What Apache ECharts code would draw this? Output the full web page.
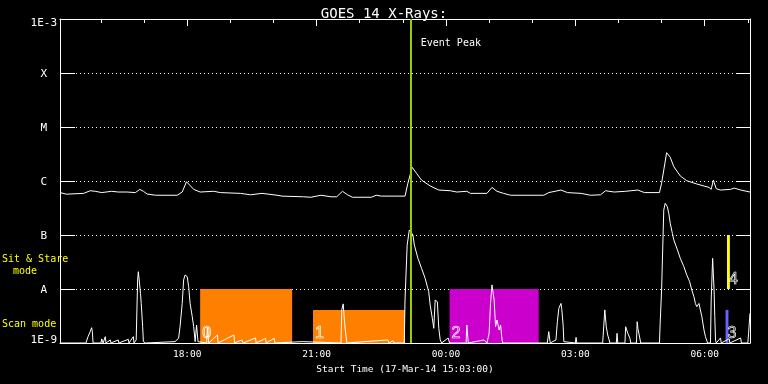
<!DOCTYPE html>
<html><head><meta charset="utf-8">
<script src="https://cdn.jsdelivr.net/npm/echarts@6/dist/echarts.min.js"></script>
<style>html,body{margin:0;padding:0;background:#000}#c{width:768px;height:384px}</style>
</head><body><div id="c"></div>
<script>
// ---- data ----
const axisRange = ["15:03", "07:03"];
const majorTicks = ["18:00", "21:00", "00:00", "03:00", "06:00"];
const hourTicks = ["16:00","17:00","18:00","19:00","20:00","21:00","22:00","23:00","00:00","01:00","02:00","03:00","04:00","05:00","06:00","07:00"];
const yTickLabels = ["1E-9", "A", "B", "C", "M", "X", "1E-3"];
const eventPeak = ["23:11"];

const upperFlux = [
["15:03",6.1e-7],["15:12",5.7e-7],["15:36",5.9e-7],["15:45",6.6e-7],["15:52",6.45e-7],["16:01",6.1e-7],
["16:15",6.45e-7],["16:24",6.25e-7],["16:36",6.25e-7],["16:48",6.1e-7],["16:54",7.0e-7],["16:59",6.45e-7],
["17:04",5.75e-7],["17:16",5.45e-7],["17:46",5.45e-7],["17:53",6.25e-7],["17:59",9.7e-7],["18:09",7.0e-7],
["18:18",6.25e-7],["18:37",6.45e-7],["18:46",6.1e-7],["19:14",5.9e-7],["19:28",5.55e-7],["19:44",5.9e-7],
["20:05",5.45e-7],["20:12",5.25e-7],["20:42",5.1e-7],["20:52",5.0e-7],["21:06",5.45e-7],["21:20",5.1e-7],
["21:28",5.1e-7],["21:36",6.45e-7],["21:43",5.55e-7],["21:50",5.0e-7],["22:16",5.0e-7],["22:23",5.45e-7],
["22:30",5.25e-7],["23:03",5.25e-7],["23:07",9.1e-7],["23:13",1.79e-6],["23:19",1.39e-6],["23:26",1.04e-6],
["23:38",8.1e-7],["23:50",6.8e-7],["00:06",6.6e-7],["00:15",6.25e-7],["00:29",6.45e-7],["00:34",5.9e-7],
["00:57",5.9e-7],["01:04",7.6e-7],["01:11",6.45e-7],["01:20",5.9e-7],["01:30",5.45e-7],["02:16",5.45e-7],
["02:23",6.1e-7],["02:40",6.8e-7],["02:49",6.1e-7],["03:08",5.9e-7],["03:21",5.45e-7],["03:35",5.55e-7],
["03:42",6.6e-7],["03:54",6.25e-7],["04:10",6.45e-7],["04:27",6.8e-7],["04:36",6.1e-7],["04:57",6.1e-7],
["05:00",9.1e-7],["05:07",3.34e-6],["05:12",2.75e-6],["05:17",1.84e-6],["05:26",1.24e-6],["05:35",1.01e-6],
["05:49",8.8e-7],["06:06",7.6e-7],["06:09",7.0e-7],["06:12",1.04e-6],["06:16",7.2e-7],["06:22",6.8e-7],
["06:36",7.0e-7],["06:41",7.4e-7],["06:50",6.8e-7],["07:03",6.25e-7]
];

const lowerFlux = [
["15:03",1e-9],["15:39",1e-9],["15:40",1.06e-9],["15:42",1.31e-9],["15:45",1.62e-9],["15:47",1.92e-9],
["15:48",1.62e-9],["15:49",1e-9],["16:00",1e-9],["16:01",1.19e-9],["16:03",1e-9],["16:06",1.31e-9],
["16:07",1e-9],["16:13",1.14e-9],["16:14",1e-9],["16:24",1.14e-9],["16:25",1e-9],["16:38",1.17e-9],
["16:39",1e-9],["16:45",1.31e-9],["16:46",1e-9],["16:49",1.14e-9],["16:50",4.1e-9],["16:51",1.47e-8],
["16:52",2.09e-8],["16:53",1.95e-8],["16:55",8.3e-9],["16:56",5.4e-9],["16:58",2.0e-9],["16:59",1.06e-9],
["17:01",1.14e-9],["17:02",1e-9],["17:43",1.06e-9],["17:48",1.22e-9],["17:50",2.0e-9],["17:53",5.4e-9],
["17:55",1.47e-8],["17:57",1.82e-8],["18:00",1.69e-8],["18:02",1.1e-8],["18:04",5.4e-9],["18:07",3.07e-9],
["18:09",2.0e-9],["18:11",1.06e-9],["18:13",2.15e-9],["18:15",1.06e-9],["18:27",1e-9],["18:28",1.9e-9],
["18:30",1e-9],["18:42",1.41e-9],["18:43",1e-9],["19:05",1.41e-9],["19:06",1e-9],["19:16",1.14e-9],
["19:18",1e-9],["19:35",1.24e-9],["19:36",1e-9],["19:49",1.22e-9],["19:50",1e-9],["20:01",1.22e-9],
["20:02",1e-9],["20:40",1.06e-9],["20:41",1e-9],["21:34",1e-9],["21:35",4.1e-9],["21:37",5.3e-9],
["21:39",2.32e-9],["21:42",1e-9],["22:39",1.14e-9],["22:41",1e-9],["22:46",1.1e-9],["22:48",1e-9],
["23:02",1e-9],["23:03",6.25e-9],["23:06",6.5e-8],["23:09",1.24e-7],["23:11",1.35e-7],["23:14",1.0e-7],
["23:16",6.5e-8],["23:21",3.7e-8],["23:26",2.42e-8],["23:31",1.58e-8],["23:36",8.9e-9],["23:38",5.05e-9],
["23:41",2.87e-9],["23:43",1.87e-9],["23:44",1.74e-9],["23:45",6.25e-9],["23:48",5.8e-9],["23:50",1.87e-9],
["23:52",1.14e-9],["23:54",1e-9],["00:03",1.24e-9],["00:05",1e-9],["00:28",1e-9],["00:29",2.15e-9],
["00:31",1e-9],["00:53",1.14e-9],["00:57",1e-9],["01:00",1.51e-9],["01:02",5.4e-9],["01:04",1.19e-8],
["01:07",6.25e-9],["01:09",2.0e-9],["01:11",2.67e-9],["01:14",1.74e-9],["01:16",2.15e-9],["01:18",1.14e-9],
["01:19",1e-9],["02:21",1e-9],["02:23",1.62e-9],["02:25",1e-9],["02:33",1.14e-9],["02:35",2.48e-9],
["02:37",4.39e-9],["02:40",5.4e-9],["02:41",4.39e-9],["02:43",2.15e-9],["02:44",1.06e-9],["02:45",1e-9],
["03:00",1e-9],["03:01",1.27e-9],["03:02",1e-9],["03:38",1e-9],["03:41",4.1e-9],["03:43",2.0e-9],
["03:45",1.41e-9],["03:47",1.14e-9],["03:48",1e-9],["03:57",1e-9],["03:58",1.51e-9],["03:59",1e-9],
["04:09",1e-9],["04:10",2.0e-9],["04:13",1.51e-9],["04:16",1.22e-9],["04:17",1e-9],["04:25",1e-9],
["04:26",2.48e-9],["04:27",1.87e-9],["04:29",1.87e-9],["04:31",1e-9],["04:57",1e-9],["04:58",2.32e-9],
["05:00",9.6e-9],["05:03",2.9e-7],["05:05",3.86e-7],["05:08",3.34e-7],["05:10",2.52e-7],["05:12",1.65e-7],
["05:15",1.07e-7],["05:17",8.1e-8],["05:22",5.3e-8],["05:26",3.7e-8],["05:31",2.59e-8],["05:35",1.82e-8],
["05:39",1.37e-8],["05:42",9.6e-9],["05:45",7.2e-9],["05:47",5.4e-9],["05:49",4.7e-9],["05:52",5.4e-9],
["05:54",5.05e-9],["05:56",3.07e-9],["05:59",1.74e-9],["06:01",1.31e-9],["06:04",1e-9],["06:08",1e-9],
["06:09",6.25e-9],["06:11",3.7e-8],["06:13",9.6e-9],["06:14",3.07e-9],["06:15",1.14e-9],["06:16",1e-9],
["06:22",1.24e-9],["06:23",1e-9],["06:34",1.2e-9],["06:35",1e-9],["06:50",1.24e-9],["06:51",1e-9],
["07:00",1e-9],["07:01",1.51e-9],["07:03",3.55e-9]
];

// observation blocks (raster intervals)
const obsStart = ["18:18", "20:55", "00:05", "06:29", "06:31"];
const obsEnd   = ["20:26", "23:03", "02:09", "06:33", "06:35"];
const obsLow   = [1e-9, 1e-9, 1e-9, 1e-9, 1e-8];
const obsHigh  = [1e-8, 4.1e-9, 1e-8, 4.1e-9, 1e-7];
const obsLabel = ["0", "1", "2", "3", "4"];

// ---- styles ----
const obsColors = ["#ff8000", "#ff8000", "#cc00cc", "#6464ff", "#ffff00"];
const FONT = "DejaVu Sans Mono";

function toH(s) { const p = s.split(":").map(Number); return (p[0] < 12 ? p[0] + 24 : p[0]) + p[1] / 60; }
const X0 = toH(axisRange[0]), X1 = toH(axisRange[1]);
const toPairs = arr => arr.map(d => [toH(d[0]), d[1]]);
const obsData = obsStart.map((s, i) => [toH(s), toH(obsEnd[i]), obsLow[i], obsHigh[i]]);

const chart = echarts.init(document.getElementById('c'), null, { renderer: 'canvas' });
const xBase = { type: 'value', min: X0, max: X1, splitLine: { show: false } };
const option = {
  backgroundColor: '#000',
  animation: false,
  title: {
    text: 'GOES 14 X-Rays:', left: 'center', top: 2,
    textStyle: { color: '#fff', fontSize: 14, fontWeight: 'normal', fontFamily: FONT }
  },
  grid: { left: 60, right: 18, top: 19, bottom: 41, containLabel: false },
  xAxis: [
    Object.assign({}, xBase, {
      position: 'bottom',
      axisLine: { show: true, lineStyle: { color: '#fff', width: 1 } },
      axisTick: { show: false },
      axisLabel: {
        customValues: majorTicks.map(toH), color: '#fff', fontFamily: FONT, fontSize: 9.5, margin: 7,
        formatter: v => { const h = Math.round(v) % 24; return (h < 10 ? '0' : '') + h + ':00'; }
      },
      name: 'Start Time (17-Mar-14 15:03:00)', nameLocation: 'middle', nameGap: 20,
      nameTextStyle: { color: '#fff', fontFamily: FONT, fontSize: 9.5 }
    }),
    Object.assign({}, xBase, {
      position: 'top',
      axisLine: { show: true, lineStyle: { color: '#fff', width: 1 } },
      axisTick: { show: true, inside: true, length: 4, customValues: hourTicks.map(toH), lineStyle: { color: '#fff', width: 1 } },
      axisLabel: { show: false }
    }),
    Object.assign({}, xBase, {
      position: 'top',
      axisLine: { show: false },
      axisTick: { show: true, inside: true, length: 7, customValues: majorTicks.map(toH), lineStyle: { color: '#fff', width: 1 } },
      axisLabel: { show: false }
    })
  ],
  yAxis: [
    {
      type: 'log', logBase: 10, min: 1e-9, max: 1e-3, splitNumber: 6, position: 'left',
      axisLine: { show: true, lineStyle: { color: '#fff', width: 1 } },
      axisTick: { show: true, inside: true, length: 15, lineStyle: { color: '#fff', width: 1 } },
      splitLine: { show: true, lineStyle: { color: '#fff', width: 1, type: [1, 3] } },
      axisLabel: {
        color: '#fff', fontFamily: FONT, fontSize: 11, margin: 3,
        formatter: v => {
          const i = Math.round(Math.log10(v)) + 9;
          const s = yTickLabels[i];
          if (i === 0) return '{bot|' + s + '}';
          if (i === yTickLabels.length - 1) return '{top|' + s + '}';
          return '{let|' + s + '}';
        },
        rich: {
          top: { color: '#fff', fontFamily: FONT, fontSize: 11, padding: [8, 0, 0, 0] },
          bot: { color: '#fff', fontFamily: FONT, fontSize: 11, padding: [0, 0, 6, 0] },
          let: { color: '#fff', fontFamily: FONT, fontSize: 11, padding: [2, 10, 0, 0] }
        }
      }
    },
    {
      type: 'log', logBase: 10, min: 1e-9, max: 1e-3, splitNumber: 6, position: 'right',
      axisLine: { show: true, lineStyle: { color: '#fff', width: 1 } },
      axisTick: { show: true, inside: true, length: 14, lineStyle: { color: '#fff', width: 1 } },
      splitLine: { show: false },
      axisLabel: { show: false }
    }
  ],
  graphic: [
    { type: 'text', x: 2, y: 259, style: { text: 'Sit & Stare', fill: '#ffff00', font: '10px "DejaVu Sans Mono"', verticalAlign: 'middle' } },
    { type: 'text', x: 13, y: 271, style: { text: 'mode', fill: '#ffff00', font: '10px "DejaVu Sans Mono"', verticalAlign: 'middle' } },
    { type: 'text', x: 2, y: 324, style: { text: 'Scan mode', fill: '#ffff00', font: '10px "DejaVu Sans Mono"', verticalAlign: 'middle' } }
  ],
  series: [
    {
      type: 'custom', xAxisIndex: 0, yAxisIndex: 0, z: 1,
      encode: { x: [0, 1], y: [2, 3] },
      data: obsData,
      renderItem: (params, api) => {
        const i = params.dataIndex;
        const p0 = api.coord([api.value(0), api.value(3)]);
        const p1 = api.coord([api.value(1), api.value(2)]);
        return {
          type: 'group', children: [
            { type: 'rect', shape: { x: p0[0], y: p0[1], width: p1[0] - p0[0], height: p1[1] - p0[1] },
              style: { fill: obsColors[i] } },
            { type: 'text', x: p0[0] + 2, y: p1[1] - 9, z2: 10,
              style: { text: obsLabel[i], fill: 'rgba(0,0,0,0)', stroke: '#fff', lineWidth: 0.7,
                       font: '16px "Liberation Sans"', verticalAlign: 'middle', align: 'left' } }
          ]
        };
      }
    },
    {
      type: 'line', name: 'long', xAxisIndex: 0, yAxisIndex: 0, z: 3,
      data: toPairs(upperFlux), showSymbol: false, symbol: 'none',
      lineStyle: { color: '#fff', width: 1 }
    },
    {
      type: 'line', name: 'short', xAxisIndex: 0, yAxisIndex: 0, z: 4,
      data: toPairs(lowerFlux), showSymbol: false, symbol: 'none',
      lineStyle: { color: '#fff', width: 1 },
      markLine: {
        silent: true, symbol: 'none', animation: false,
        lineStyle: { color: '#9acd00', width: 2, type: 'solid' },
        label: { show: false },
        data: [{ xAxis: toH(eventPeak[0]) }]
      },
      markPoint: {
        silent: true, symbol: 'circle', symbolSize: 0, animation: false,
        label: { show: true, position: 'right', distance: 10, formatter: 'Event Peak',
                 color: '#fff', fontFamily: FONT, fontSize: 10 },
        data: [{ coord: [toH(eventPeak[0]), 3.6e-4] }]
      }
    }
  ]
};
chart.setOption(option);
</script>
</body></html>
